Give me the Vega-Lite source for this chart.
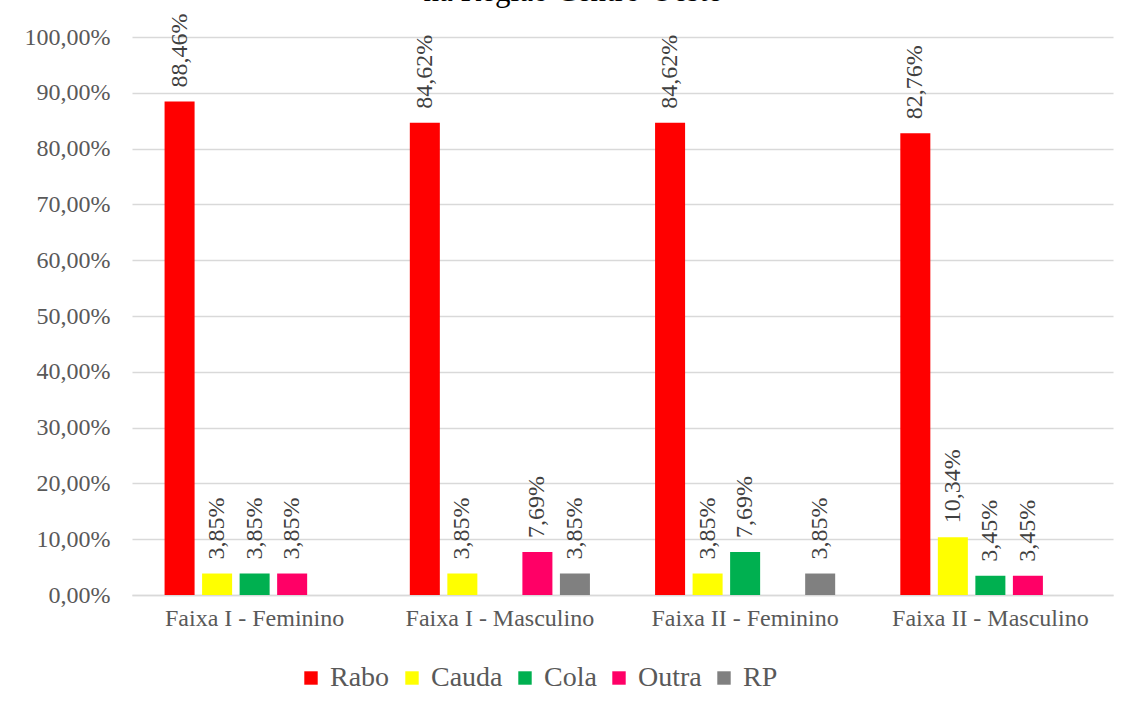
{
  "$schema": "https://vega.github.io/schema/vega-lite/v6.json",
  "autosize": "none",
  "width": 981,
  "height": 558,
  "padding": {"left": 132, "top": 37, "right": 21, "bottom": 120},
  "background": "white",
  "title": {
    "text": "na Região Centro-Oeste",
    "font": "Liberation Serif",
    "fontSize": 31,
    "fontWeight": "normal",
    "color": "#000000",
    "anchor": "middle",
    "frame": "group",
    "baseline": "alphabetic",
    "offset": 9,
    "dy": 28,
    "dx": -50
  },
  "config": {
    "locale": {"number": {"decimal": ",", "thousands": ".", "grouping": [3], "currency": ["R$", ""]}},
    "view": {"stroke": null},
    "font": "Liberation Serif"
  },
  "data": {
    "values": [
      {"faixa": "Faixa I - Feminino", "serie": "Rabo", "valor": 0.8846},
      {"faixa": "Faixa I - Feminino", "serie": "Cauda", "valor": 0.0385},
      {"faixa": "Faixa I - Feminino", "serie": "Cola", "valor": 0.0385},
      {"faixa": "Faixa I - Feminino", "serie": "Outra", "valor": 0.0385},
      {"faixa": "Faixa I - Masculino", "serie": "Rabo", "valor": 0.8462},
      {"faixa": "Faixa I - Masculino", "serie": "Cauda", "valor": 0.0385},
      {"faixa": "Faixa I - Masculino", "serie": "Outra", "valor": 0.0769},
      {"faixa": "Faixa I - Masculino", "serie": "RP", "valor": 0.0385},
      {"faixa": "Faixa II - Feminino", "serie": "Rabo", "valor": 0.8462},
      {"faixa": "Faixa II - Feminino", "serie": "Cauda", "valor": 0.0385},
      {"faixa": "Faixa II - Feminino", "serie": "Cola", "valor": 0.0769},
      {"faixa": "Faixa II - Feminino", "serie": "RP", "valor": 0.0385},
      {"faixa": "Faixa II - Masculino", "serie": "Rabo", "valor": 0.8276},
      {"faixa": "Faixa II - Masculino", "serie": "Cauda", "valor": 0.1034},
      {"faixa": "Faixa II - Masculino", "serie": "Cola", "valor": 0.0345},
      {"faixa": "Faixa II - Masculino", "serie": "Outra", "valor": 0.0345}
    ]
  },
  "encoding": {
    "x": {
      "field": "faixa",
      "type": "nominal",
      "sort": ["Faixa I - Feminino", "Faixa I - Masculino", "Faixa II - Feminino", "Faixa II - Masculino"],
      "scale": {"paddingInner": 0.235, "paddingOuter": 0.1175},
      "axis": {
        "title": null,
        "labelAngle": 0,
        "labelFont": "Liberation Serif",
        "labelFontSize": 24,
        "labelColor": "#595959",
        "labelPadding": 11,
        "labelLimit": 0,
        "ticks": false,
        "domainColor": "#d9d9d9",
        "domainWidth": 1.5
      }
    },
    "xOffset": {
      "field": "serie",
      "type": "nominal",
      "scale": {"domain": ["Rabo", "Cauda", "Cola", "Outra", "RP"], "paddingInner": 0.2, "paddingOuter": 0.1}
    },
    "y": {
      "field": "valor",
      "type": "quantitative",
      "scale": {"domain": [0, 1], "nice": false},
      "axis": {
        "title": null,
        "values": [0, 0.1, 0.2, 0.3, 0.4, 0.5, 0.6, 0.7, 0.8, 0.9, 1],
        "format": ".2%",
        "labelFont": "Liberation Serif",
        "labelFontSize": 24,
        "labelColor": "#595959",
        "labelPadding": 22,
        "domain": false,
        "ticks": false,
        "gridColor": "#d9d9d9",
        "gridWidth": 1.5
      }
    }
  },
  "layer": [
    {
      "mark": {"type": "bar"},
      "encoding": {
        "color": {
          "field": "serie",
          "type": "nominal",
          "scale": {"domain": ["Rabo", "Cauda", "Cola", "Outra", "RP"], "range": ["#FF0000", "#FFFF00", "#00B050", "#FF0066", "#808080"]},
          "legend": {
            "title": null,
            "orient": "none",
            "direction": "horizontal",
            "legendX": 165,
            "legendY": 627,
            "gridAlign": "none",
            "symbolType": "square",
            "symbolSize": 180,
            "symbolStrokeWidth": 0,
            "symbolOpacity": 1,
            "labelFont": "Liberation Serif",
            "labelFontSize": 28,
            "labelColor": "#595959",
            "labelOffset": 5,
            "columnPadding": 8,
            "labelLimit": 0
          }
        }
      }
    },
    {
      "mark": {
        "type": "text",
        "angle": 270,
        "align": "left",
        "baseline": "middle",
        "dx": 14,
        "font": "Liberation Serif",
        "fontSize": 24,
        "color": "#404040"
      },
      "encoding": {
        "text": {"field": "valor", "type": "quantitative", "format": ".2%"}
      }
    }
  ]
}
